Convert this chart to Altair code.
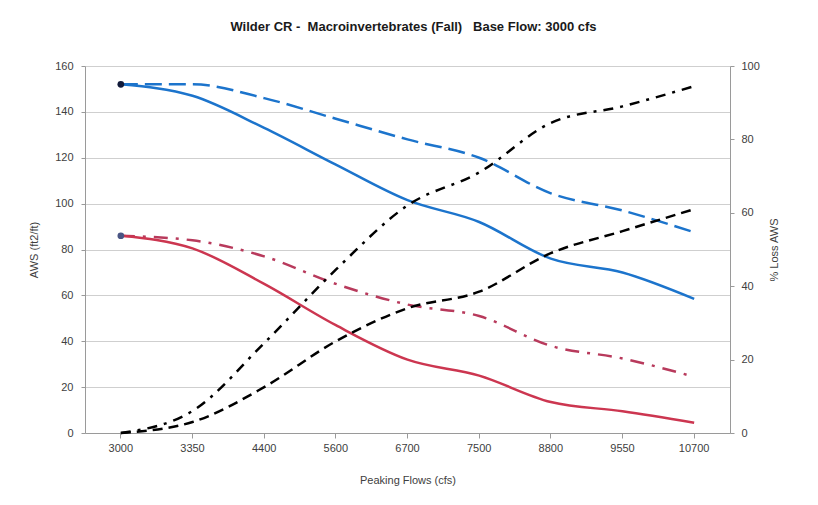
import altair as alt
import pandas as pd

flows = ["3000", "3350", "4400", "5600", "6700", "7500", "8800", "9550", "10700"]

blue_solid = [152, 147, 133, 117, 101.5, 92, 76, 70, 58.5]
blue_dashed = [152, 152, 146, 137, 128, 120, 104.5, 97, 87.5]
red_solid = [86, 80.5, 65, 47, 32, 25, 13.5, 9.5, 4.5]
red_dashdot = [86, 84, 77, 65, 56, 51, 38, 32.5, 24.5]
black_dashdot = [0, 6, 24.5, 44.5, 62, 71, 84.5, 89, 94.5]
black_dashed = [0, 3, 12.5, 25, 34, 38.5, 49, 55, 61]

start_flow = ["3000", "3000"]
start_vals = [152, 86]
start_cols = ["#111a3a", "#4a5584"]

FONT = "Liberation Sans"
LBL = "#404040"
DOM = "#9a9a9a"


def frame(vals):
    return pd.DataFrame({"flow": flows, "v": vals})


x_enc = alt.X(
    "flow:N",
    sort=flows,
    scale=alt.Scale(type="band", paddingInner=0, paddingOuter=0),
    axis=alt.Axis(
        title="Peaking Flows (cfs)",
        labelAngle=0,
        tickSize=5,
        labelPadding=4,
        titlePadding=21,
        domainColor=DOM,
        tickColor=DOM,
        grid=False,
    ),
)

left_axis = alt.Axis(
    title="AWS (ft2/ft)",
    orient="left",
    values=[0, 20, 40, 60, 80, 100, 120, 140, 160],
    grid=True,
    gridColor="#cfcfcf",
    tickSize=4,
    labelPadding=8,
    titlePadding=15,
    domainColor=DOM,
    tickColor=DOM,
)
right_axis = alt.Axis(
    title="% Loss AWS",
    orient="right",
    values=[0, 20, 40, 60, 80, 100],
    grid=False,
    tickSize=4,
    labelPadding=7,
    titlePadding=20,
    titleAngle=270,
    domainColor=DOM,
    tickColor=DOM,
)

yl = alt.Y("v:Q", scale=alt.Scale(domain=[0, 160]), axis=left_axis)
yr = alt.Y("v:Q", scale=alt.Scale(domain=[0, 100]), axis=right_axis)


def line(vals, color, dash, y):
    kw = dict(color=color, strokeWidth=2.5, interpolate="monotone")
    if dash:
        kw["strokeDash"] = dash
    return alt.Chart(frame(vals)).mark_line(**kw).encode(x=x_enc, y=y)


pts = alt.Chart(pd.DataFrame({"flow": start_flow, "v": start_vals, "c": start_cols})).mark_circle(
    size=45, opacity=1
).encode(x=x_enc, y=yl, color=alt.Color("c:N", scale=None))

left = alt.layer(
    line(blue_dashed, "#1c74cc", [17, 7], yl),
    line(blue_solid, "#1c74cc", None, yl),
    line(red_dashdot, "#b83a5c", [14, 8, 3, 8], yl),
    line(red_solid, "#cc3650", None, yl),
    pts,
)
right = alt.layer(
    line(black_dashdot, "#000000", [10, 7, 3, 7], yr),
    line(black_dashed, "#000000", [10, 6], yr),
)

chart = (
    alt.layer(left, right)
    .resolve_scale(y="independent")
    .properties(
        width=645,
        height=367,
        autosize="none",
        padding={"left": 77, "top": 58, "right": 80, "bottom": 64},
        title=alt.TitleParams(
            "Wilder CR -\u00a0 Macroinvertebrates (Fall)\u00a0\u00a0 Base Flow: 3000 cfs",
            anchor="middle",
            fontSize=13,
            fontWeight="bold",
            font=FONT,
            color="#1a1a1a",
            offset=26,
            dx=6,
        ),
    )
    .configure_view(stroke=None)
    .configure_axis(
        labelFont=FONT,
        titleFont=FONT,
        labelFontSize=11,
        titleFontSize=11,
        titleFontWeight="normal",
        labelColor=LBL,
        titleColor=LBL,
    )
)

chart.save("out.html", embed_options={"renderer": "svg", "actions": False})
